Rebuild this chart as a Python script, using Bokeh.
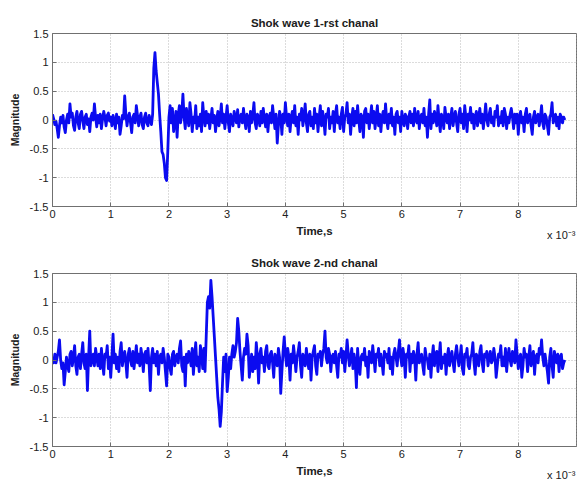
import numpy as np
from bokeh.plotting import figure
from bokeh.layouts import column
from bokeh.models import FixedTicker, CustomJSTickFormatter, Range1d, Title
from bokeh.embed import file_html
from bokeh.resources import INLINE

# sample spacing (seconds)
dt = 0.02e-3

# channel 1 magnitudes, one sample every 0.02 ms (0 .. 8.8 ms), 25 samples per row
ch1 = [
    0.10, 0.02, -0.08, -0.02, -0.15, -0.30, -0.10, 0.05, -0.05, 0.08, -0.12, -0.22, 0.00, 0.10, -0.05, 0.28, 0.05, 0.12, -0.10, -0.18, 0.05, 0.15, -0.05, -0.15, 0.10,
    0.15, -0.02, -0.15, 0.05, 0.10, -0.08, 0.02, -0.20, 0.05, 0.12, 0.00, 0.28, 0.05, -0.12, 0.08, -0.05, 0.10, -0.15, 0.02, 0.15, 0.05, -0.10, 0.08, 0.12, -0.02,
    0.05, -0.10, 0.08, 0.00, -0.15, 0.10, -0.05, 0.05, -0.25, -0.10, 0.08, 0.02, 0.42, 0.10, -0.10, 0.05, 0.12, -0.05, -0.22, 0.05, 0.10, -0.05, 0.25, 0.08, -0.10,
    0.05, 0.12, -0.08, -0.15, 0.05, 0.12, -0.05, -0.10, 0.08, 0.00, -0.08, 0.10, 0.90, 1.17, 0.85, 0.65, 0.45, 0.10, -0.20, -0.55, -0.60, -0.75, -1.00, -1.05, -0.55,
    0.05, 0.25, -0.05, 0.20, -0.20, -0.05, 0.15, -0.30, 0.10, 0.25, -0.05, 0.10, 0.45, 0.05, -0.15, 0.20, 0.05, -0.10, 0.30, 0.10, -0.20, 0.05, -0.05, 0.25, -0.15,
    0.05, -0.10, 0.10, -0.20, 0.30, 0.05, -0.10, 0.15, -0.05, 0.10, -0.15, 0.02, 0.20, -0.05, 0.08, -0.20, 0.00, 0.15, -0.10, 0.05, 0.28, -0.05, 0.10, -0.15, 0.05,
    0.25, -0.05, -0.20, 0.10, 0.02, -0.10, 0.15, 0.05, -0.05, 0.18, -0.12, 0.05, 0.10, -0.05, 0.20, 0.00, -0.15, 0.10, 0.05, -0.20, 0.15, -0.05, 0.08, 0.30, -0.05,
    -0.15, 0.10, 0.05, -0.10, 0.15, -0.05, 0.20, 0.02, -0.12, 0.10, -0.20, 0.05, 0.12, -0.05, 0.25, 0.05, -0.15, 0.10, -0.40, -0.10, 0.15, 0.05, -0.25, 0.10, -0.05,
    0.30, 0.05, -0.10, 0.10, -0.20, 0.05, 0.15, -0.05, 0.25, -0.10, 0.05, -0.25, 0.10, 0.00, 0.20, -0.10, 0.05, 0.28, -0.05, -0.20, 0.10, 0.15, -0.10, 0.05, -0.15,
    0.20, -0.05, 0.10, -0.20, 0.05, 0.25, -0.10, 0.15, 0.00, -0.25, 0.10, 0.05, 0.20, -0.15, 0.05, -0.05, 0.15, -0.20, 0.10, 0.25, -0.05, 0.05, -0.15, 0.10, 0.22,
    -0.20, 0.05, 0.10, 0.30, -0.05, 0.10, -0.25, 0.05, 0.20, -0.10, 0.15, -0.05, 0.25, 0.00, -0.20, 0.10, 0.05, -0.30, 0.15, 0.20, -0.05, 0.10, -0.15, 0.05, 0.25,
    -0.05, 0.15, -0.15, 0.05, 0.25, -0.10, 0.10, -0.20, 0.05, 0.15, -0.05, 0.28, 0.00, -0.15, 0.10, -0.05, 0.20, -0.10, 0.05, -0.25, 0.10, 0.15, -0.05, 0.05, -0.20,
    0.15, 0.00, -0.10, 0.10, 0.05, -0.15, 0.05, 0.15, -0.05, 0.10, -0.10, 0.20, 0.00, -0.05, 0.15, -0.15, 0.05, 0.10, -0.05, 0.20, -0.10, 0.05, -0.30, 0.10, 0.35,
    -0.15, 0.10, -0.05, 0.15, 0.05, -0.10, 0.25, 0.00, -0.20, 0.10, 0.05, -0.15, 0.22, 0.05, -0.05, 0.10, -0.15, 0.05, 0.20, -0.10, 0.05, 0.15, -0.05, -0.20, 0.10,
    0.20, -0.05, 0.10, -0.15, 0.25, 0.05, -0.20, 0.10, 0.00, 0.22, -0.05, 0.10, -0.15, 0.05, 0.15, -0.10, 0.05, 0.20, -0.05, 0.10, -0.15, 0.05, 0.28, 0.00, -0.10,
    0.10, 0.20, -0.05, 0.05, -0.10, 0.15, 0.05, 0.25, -0.10, 0.05, -0.05, 0.15, -0.10, 0.20, 0.10, -0.15, 0.05, -0.05, 0.10, 0.20, 0.05, -0.15, 0.10, -0.05, 0.10,
    -0.25, 0.05, 0.15, -0.05, 0.05, -0.20, 0.10, 0.20, -0.05, 0.05, 0.10, -0.10, -0.25, 0.05, 0.15, -0.05, 0.05, 0.10, -0.10, 0.05, 0.25, -0.05, -0.15, 0.10, 0.05,
    -0.10, -0.25, 0.05, 0.10, 0.30, -0.05, 0.05, 0.10, -0.10, 0.05, -0.15, 0.10, 0.05, -0.05, 0.05, 0.00,
]

# channel 2 magnitudes, same sampling
ch2 = [
    0.05, -0.05, 0.10, -0.05, 0.05, 0.15, 0.35, 0.00, -0.15, -0.05, -0.43, -0.20, 0.05, -0.10, -0.20, 0.10, 0.15, -0.10, 0.05, 0.25, -0.10, -0.25, 0.05, 0.10, -0.15,
    0.10, 0.30, -0.05, -0.15, 0.10, -0.53, 0.05, 0.50, -0.10, 0.00, 0.10, -0.10, 0.20, 0.05, -0.10, 0.10, -0.15, 0.20, -0.05, -0.25, 0.10, 0.05, 0.25, -0.15, 0.05,
    -0.30, 0.05, 0.45, -0.05, 0.10, -0.15, 0.05, -0.20, 0.15, 0.30, -0.10, 0.05, 0.15, -0.05, -0.30, 0.10, 0.20, 0.00, -0.10, 0.15, -0.15, 0.05, 0.25, -0.05, 0.10,
    -0.10, 0.20, 0.05, -0.20, 0.10, 0.15, -0.05, 0.20, -0.10, -0.53, 0.05, 0.20, -0.05, 0.10, -0.10, 0.15, -0.25, 0.05, 0.10, -0.05, 0.20, 0.05, -0.20, -0.45, 0.10,
    0.05, -0.15, -0.25, 0.10, 0.15, -0.10, 0.05, 0.10, -0.05, 0.20, 0.33, -0.10, -0.20, 0.05, -0.45, 0.10, -0.05, 0.15, 0.05, -0.10, 0.20, -0.25, 0.05, 0.30, -0.10,
    0.05, -0.20, 0.25, 0.10, -0.15, 0.20, -0.20, 0.40, 1.00, 1.10, 0.90, 1.38, 1.10, 0.75, 0.40, 0.05, -0.30, -0.65, -0.85, -1.15, -0.90, -0.40, 0.05, -0.20, 0.10,
    -0.55, -0.30, 0.05, -0.15, 0.10, 0.25, 0.05, 0.15, 0.30, 0.72, 0.50, 0.15, -0.10, -0.35, 0.05, 0.20, 0.10, 0.45, 0.25, -0.30, -0.10, 0.10, -0.20, 0.05, -0.15,
    0.30, 0.05, -0.40, 0.10, 0.20, -0.05, 0.05, -0.20, 0.15, 0.25, -0.10, -0.15, 0.10, 0.15, -0.05, -0.30, 0.10, 0.05, -0.10, 0.20, 0.05, -0.58, -0.20, 0.15, 0.40,
    0.10, -0.10, 0.20, 0.05, -0.35, 0.10, -0.05, 0.25, 0.05, -0.20, 0.05, 0.15, 0.30, -0.10, -0.30, 0.10, 0.05, -0.10, 0.20, 0.00, -0.15, 0.10, -0.35, 0.05, 0.15,
    0.25, -0.10, -0.25, 0.10, 0.05, 0.15, -0.10, 0.10, 0.20, 0.50, 0.05, -0.05, 0.20, 0.10, -0.20, 0.05, 0.10, -0.05, 0.15, -0.10, -0.30, 0.10, 0.05, 0.20, -0.05,
    0.15, -0.20, 0.05, 0.35, 0.10, -0.10, 0.05, 0.20, -0.15, 0.10, -0.05, -0.48, 0.20, -0.10, -0.25, 0.05, 0.10, 0.00, 0.20, -0.10, 0.05, -0.30, 0.15, 0.05, -0.05,
    0.25, 0.05, -0.20, 0.10, 0.05, 0.20, -0.10, 0.10, -0.05, -0.25, 0.15, 0.05, 0.10, -0.05, 0.20, -0.15, 0.05, -0.25, 0.10, 0.20, 0.05, -0.10, 0.15, 0.35, 0.05,
    -0.10, 0.20, 0.05, -0.30, 0.10, 0.05, 0.25, -0.20, 0.10, -0.05, 0.15, 0.05, -0.35, 0.10, 0.30, -0.05, 0.05, 0.10, -0.10, -0.25, 0.20, 0.05, 0.00, -0.15, 0.10,
    -0.30, 0.05, 0.25, -0.10, 0.10, 0.15, -0.20, 0.05, 0.30, -0.15, 0.05, -0.05, 0.10, -0.25, 0.05, 0.20, -0.10, 0.05, 0.15, -0.05, -0.20, 0.10, 0.25, 0.05, -0.10,
    0.05, 0.25, -0.15, -0.25, 0.10, 0.05, 0.20, -0.10, -0.15, 0.05, 0.10, 0.30, -0.05, -0.25, 0.10, 0.05, -0.10, 0.15, 0.25, -0.05, -0.20, 0.10, 0.05, 0.15, -0.10,
    0.05, 0.15, -0.05, 0.00, 0.20, 0.05, -0.30, -0.10, 0.10, 0.05, 0.25, -0.10, 0.05, -0.10, 0.20, -0.20, 0.05, 0.20, 0.00, -0.10, 0.15, 0.05, -0.05, 0.35, 0.10,
    -0.15, 0.05, 0.10, -0.30, -0.10, 0.20, 0.05, 0.10, -0.20, 0.05, 0.25, -0.10, 0.05, 0.15, -0.25, 0.05, 0.10, -0.05, 0.20, 0.10, 0.35, 0.05, -0.10, 0.10, -0.05,
    -0.20, -0.40, 0.05, 0.20, -0.10, -0.30, 0.15, 0.05, -0.05, 0.10, -0.20, 0.05, 0.10, -0.15, -0.05, 0.00,
]

titles = ["Shok wave 1-rst chanal", "Shok wave 2-nd chanal"]
x_ticks = [i * 1e-3 for i in range(10)]
y_ticks = [-1.5, -1.0, -0.5, 0.0, 0.5, 1.0, 1.5]
x_label = "Time,s"
y_label = "Magnitude"
exp_label = "x 10\u207b\u00b3"

FONT = "Liberation Sans"
AX = "#707070"
TXT = "#202020"


def make(values, title):
    t = np.arange(len(values)) * dt
    p = figure(width=579, height=240, output_backend="svg", toolbar_location=None,
               x_range=Range1d(0, 0.009), y_range=Range1d(-1.5, 1.5),
               min_border_left=52, min_border_right=3, min_border_top=33,
               min_border_bottom=34, background_fill_color="white",
               border_fill_color="white")
    p.line(t, values, line_width=2.8, color="#0b0bf0", line_join="round")

    p.title.text = title
    p.title.align = "center"
    p.title.text_font = FONT
    p.title.text_font_size = "11.5px"
    p.title.text_font_style = "bold"
    p.title.text_color = TXT

    p.xaxis.ticker = FixedTicker(ticks=x_ticks)
    p.xaxis.formatter = CustomJSTickFormatter(code="return Math.round(tick*1000).toString();")
    p.yaxis.ticker = FixedTicker(ticks=y_ticks)
    p.yaxis.formatter = CustomJSTickFormatter(code="return (Math.round(tick*10)/10).toString();")

    for ax in (p.xaxis, p.yaxis):
        ax.major_tick_in = 4
        ax.major_tick_out = 0
        ax.minor_tick_line_color = None
        ax.axis_line_color = AX
        ax.major_tick_line_color = AX
        ax.major_label_text_font = FONT
        ax.major_label_text_font_size = "11px"
        ax.major_label_text_color = TXT
        ax.axis_label_text_font = FONT
        ax.axis_label_text_font_style = "bold"
        ax.axis_label_text_color = TXT
    p.xaxis.axis_label = x_label
    p.yaxis.axis_label = y_label
    p.xaxis.axis_label_text_font_size = "11.5px"
    p.yaxis.axis_label_text_font_size = "10.5px"
    p.xaxis.major_label_standoff = 3
    p.xaxis.axis_label_standoff = 4
    p.yaxis.major_label_standoff = 4
    p.yaxis.axis_label_standoff = 6

    p.xgrid.ticker = FixedTicker(ticks=x_ticks)
    p.ygrid.ticker = FixedTicker(ticks=y_ticks)
    for g in (p.xgrid, p.ygrid):
        g.grid_line_color = "#b8b8b8"
        g.grid_line_dash = "1 2"
        g.grid_line_width = 1

    p.outline_line_color = AX
    p.outline_line_alpha = 1

    # "x 10^-3" multiplier below the right end of the x axis
    exp_title = Title(text=exp_label, align="right", vertical_align="top",
                      standoff=-22, offset=1, text_font=FONT,
                      text_font_size="11px", text_font_style="normal",
                      text_color=TXT)
    p.add_layout(exp_title, "below")
    return p


p1 = make(ch1, titles[0])
p2 = make(ch2, titles[1])
layout = column(p1, p2, spacing=0)

open("out.html", "w").write(file_html(layout, INLINE))
